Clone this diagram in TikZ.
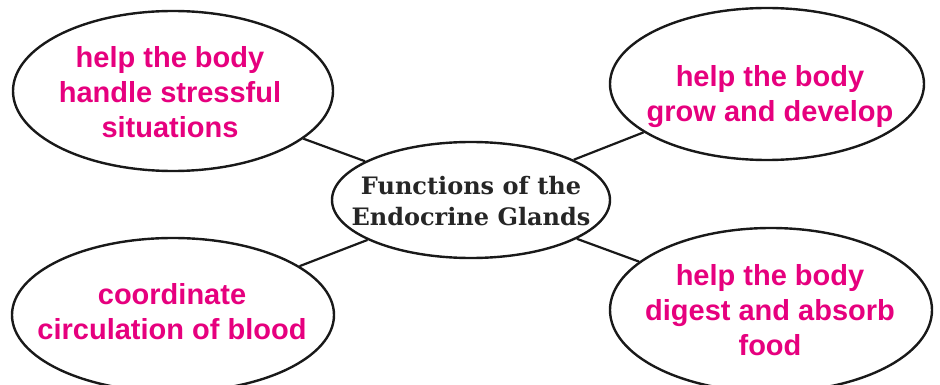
\documentclass[tikz,border=0pt]{standalone}
\usepackage{fontspec}
\setmainfont{Liberation Sans}
\newfontfamily\titlefont{DejaVu Serif}
\usetikzlibrary{shapes.geometric}
\definecolor{funcpink}{HTML}{E6007E}
\begin{document}
\begin{tikzpicture}[x=1pt,y=-1pt,
  oval/.style={ellipse,draw=black!90,line width=2.4pt,inner sep=0pt},
  bubbletext/.style={align=center,text=funcpink,inner sep=0pt,
    font=\fontsize{29}{35}\selectfont\bfseries},
  hubtext/.style={align=center,text=black!85,inner sep=0pt,
    font=\titlefont\fontsize{24}{31}\selectfont\bfseries},
  link/.style={draw=black!90,line width=2.2pt}]
  \useasboundingbox (0,0) rectangle (940,385);
  % outlines
  \node[oval,minimum width=278pt,minimum height=116pt] (hub) at (471,200) {};
  \node[oval,minimum width=320pt,minimum height=160pt] (stress) at (173,91) {};
  \node[oval,minimum width=314pt,minimum height=152pt] (grow) at (767,84) {};
  \node[oval,minimum width=322pt,minimum height=154pt] (blood) at (173,315) {};
  \node[oval,minimum width=322pt,minimum height=164pt] (digest) at (771,310) {};
  % texts
  \node[hubtext] (hubt) at (471,201) {Functions of the\\Endocrine Glands};
  \node[bubbletext] (stresst) at (170,92) {help the body\\handle stressful\\situations};
  \node[bubbletext] (growt) at (770,97) {help the body\\grow and develop};
  \node[bubbletext] (bloodt) at (172,312) {coordinate\\circulation of blood};
  \node[bubbletext] (digestt) at (770,310) {help the body\\digest and absorb\\food};
  % spokes
  \draw[link] (hub) -- (stress);
  \draw[link] (hub) -- (grow);
  \draw[link] (hub) -- (blood);
  \draw[link] (hub) -- (digest);
\end{tikzpicture}
\end{document}
